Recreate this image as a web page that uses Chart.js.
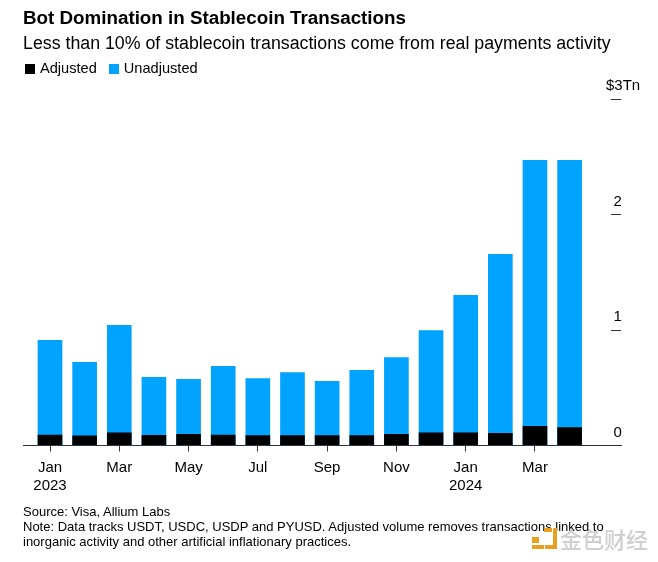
<!DOCTYPE html>
<html>
<head>
<meta charset="utf-8">
<script src="https://cdn.jsdelivr.net/npm/chart.js@4"></script>
<style>
html,body{margin:0;padding:0;background:#fff;width:658px;height:562px;overflow:hidden;font-family:"Liberation Sans",Arial,sans-serif;color:#000}
#wrap{position:relative;width:658px;height:562px}
canvas{position:absolute;left:0;top:0}
.t{position:absolute;white-space:nowrap}
#title{left:23px;top:6px;font-size:18.8px;font-weight:700;line-height:24px}
#subtitle{left:23px;top:32px;font-size:17.77px;line-height:22px}
#legend{left:25px;top:59px;font-size:14.6px;line-height:18px;display:flex}
#legend span.k{display:inline-block;width:10px;height:10px;margin-right:5px;position:relative;top:1px}
#legend div{margin-right:12px}
#foot{left:23px;top:504px;font-size:13px;line-height:15.2px}
#wm{left:532px;top:525px;width:120px;height:30px}
#wm .txt{position:absolute;left:28px;top:-2px;font-family:"Noto Sans CJK SC";font-size:22px;line-height:30px;color:#cfcfcf;font-weight:500}
#wm .b{position:absolute;left:13px;top:3px;width:8px;height:17px;border-right:4px solid #e8a020;border-bottom:4px solid #e8a020}
#wm .c{position:absolute;left:0;top:12px;width:7px;height:6px;background:#e8a020}
#wm .d{position:absolute;left:12px;top:3px;width:8px;height:4px;background:#e8a020}
#wm .e{position:absolute;left:0;top:20px;width:12px;height:4px;background:#e8a020}
</style>
</head>
<body>
<div id="wrap">
<canvas id="c" width="658" height="562"></canvas>
<div class="t" id="title">Bot Domination in Stablecoin Transactions</div>
<div class="t" id="subtitle">Less than 10% of stablecoin transactions come from real payments activity</div>
<div class="t" id="legend"></div>
<div class="t" id="foot">Source: Visa, Allium Labs<br>Note: Data tracks USDT, USDC, USDP and PYUSD. Adjusted volume removes transactions linked to<br>inorganic activity and other artificial inflationary practices.</div>
<div class="t" id="wm"><i class="c"></i><i class="b"></i><i class="d"></i><i class="e"></i><span class="txt">金色财经</span></div>
</div>
<script>
const months = [0,1,2,3,4,5,6,7,8,9,10,11,12,13,14,15];
const adjusted = [0.09,0.083,0.11,0.088,0.097,0.09,0.085,0.085,0.085,0.085,0.097,0.11,0.11,0.105,0.165,0.155];
const unadjusted = [0.91,0.72,1.04,0.59,0.572,0.685,0.58,0.632,0.555,0.65,0.762,0.995,1.3,1.655,2.47,2.47];
const xTickValues = [0,2,4,6,8,10,12,14];
const xTickLabels = [["Jan","2023"],["Mar"],["May"],["Jul"],["Sep"],["Nov"],["Jan","2024"],["Mar"]];
const yTickValues = [0,1,2,3];
const yTickLabels = ["0","1","2","$3Tn"];
const BLUE = "#00a3ff";
const INK = "#000";

const lg = document.getElementById('legend');
[["Adjusted","#000"],["Unadjusted",BLUE]].forEach(([n,c])=>{
  const d=document.createElement('div');
  d.innerHTML='<span class="k" style="background:'+c+'"></span>'+n;
  lg.appendChild(d);
});

const yLabels = {
  id:'yLabels',
  afterDraw(chart){
    const s=chart.scales.y, ctx=chart.ctx;
    ctx.save();
    ctx.font='15px "Liberation Sans"';
    ctx.fillStyle=INK;
    ctx.textBaseline='middle';
    ctx.textAlign='left';
    s.ticks.forEach(t=>{
      const y=s.getPixelForValue(t.value)-13;
      const txt=String(t.label);
      const x=txt.startsWith('$')?606:613.5;
      ctx.fillText(txt,x,y);
    });
    ctx.restore();
  }
};

new Chart(document.getElementById('c'),{
  type:'bar',
  plugins:[yLabels],
  data:{datasets:[
    {label:'Adjusted',data:months.map((m,i)=>({x:m,y:adjusted[i]})),backgroundColor:'#000',grouped:false,barThickness:24,borderWidth:0},
    {label:'Unadjusted',data:months.map((m,i)=>({x:m,y:unadjusted[i]})),backgroundColor:BLUE,grouped:false,barThickness:24,borderWidth:0}
  ]},
  options:{
    responsive:false,animation:false,devicePixelRatio:1,
    layout:{padding:{left:23,top:99,right:0,bottom:0}},
    plugins:{legend:{display:false},title:{display:false},tooltip:{enabled:false}},
    scales:{
      x:{
        type:'linear',position:'bottom',offset:false,
        min:(23-50)/34.64,max:(621-50)/34.64,
        afterBuildTicks(s){s.ticks=xTickValues.map(v=>({value:v}));},
        afterFit(s){s.height=562-445.5;},
        grid:{offset:false,drawOnChartArea:false,drawTicks:true,tickLength:6,color:'#333',lineWidth:1},
        border:{display:true,color:'#333',width:1},
        ticks:{
          autoSkip:false,maxRotation:0,minRotation:0,padding:7,color:INK,
          font:{family:'"Liberation Sans"',size:15,lineHeight:1.2},
          callback(v){const i=xTickValues.indexOf(v);return i<0?'':xTickLabels[i];}
        }
      },
      y:{
        type:'linear',position:'right',min:0,max:3,
        afterBuildTicks(s){s.ticks=yTickValues.map(v=>({value:v}));},
        afterFit(s){s.width=37;},
        grid:{drawOnChartArea:false,drawTicks:true,tickLength:-10,color:'#333',lineWidth:1},
        border:{display:false},
        ticks:{display:false,callback(v){return yTickLabels[yTickValues.indexOf(v)];}}
      }
    }
  }
});
</script>
</body>
</html>
